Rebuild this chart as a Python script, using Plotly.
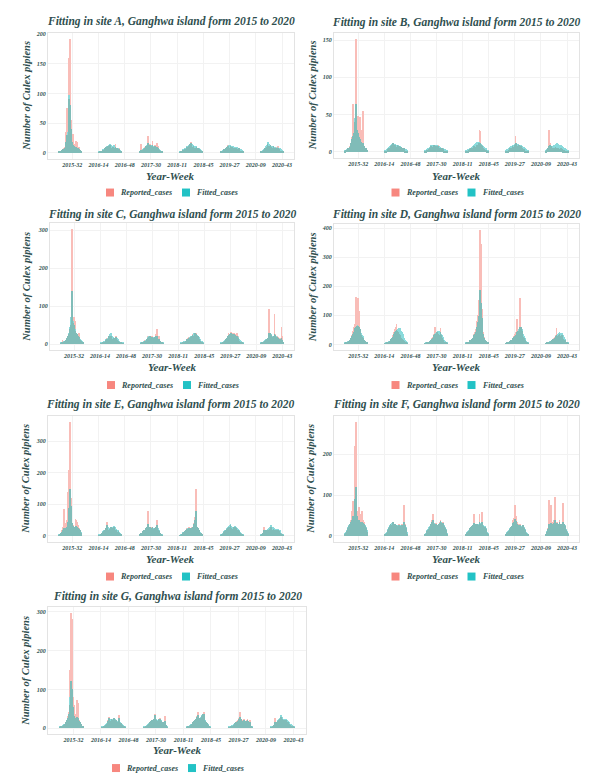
import plotly.graph_objects as go

# ---------------- data ----------------
YEARS = [2015, 2016, 2017, 2018, 2019, 2020]
YEAR_WEEKS = [52, 52, 53, 52, 52, 53]          # weeks per year (week numbering used in the source)
SEASON_WEEKS = list(range(15, 45))              # surveillance weeks 15..44 each year
TICK_LABELS = ["2015-32", "2016-14", "2016-48", "2017-30", "2018-11",
               "2018-45", "2019-27", "2020-09", "2020-43"]
SITES = ["A", "B", "C", "D", "E", "F", "G"]
SERIES = ["Reported_cases", "Fitted_cases"]

REPORTED_A = [
    [2,3,2,4,5,6,8,10,15,35,75,30,160,90,192,55,25,20,32,12,15,10,20,18,8,6,10,5,4,3],
    [1,2,2,3,4,5,3,8,6,10,5,12,8,6,14,9,7,5,10,8,6,15,4,9,7,5,8,3,2,2],
    [2,3,15,4,5,3,6,10,8,12,6,28,10,8,15,12,9,20,7,10,14,8,6,16,12,5,4,3,2,2],
    [1,2,3,3,5,4,6,5,8,10,7,12,9,15,18,10,8,12,6,9,7,10,5,8,6,4,5,3,2,2],
    [1,2,2,3,4,6,5,8,7,10,14,6,9,12,8,10,7,9,6,8,10,5,7,6,9,5,4,3,2,2],
    [1,2,2,3,4,5,8,6,10,15,9,12,8,14,10,7,9,12,6,8,5,10,7,12,6,4,3,3,2,2],
]
FITTED_A = [
    [3,3,4,4,5,6,7,9,12,18,30,35,65,97,80,40,25,18,14,12,12,10,10,9,8,7,6,5,4,3],
    [3,3,4,4,5,6,7,8,9,10,11,12,12,13,15,13,12,12,11,14,10,10,9,9,8,7,6,5,4,3],
    [3,4,5,5,6,7,8,9,10,12,14,16,15,14,13,14,12,13,12,11,12,10,9,10,8,7,6,5,4,3],
    [3,3,4,5,6,7,8,9,10,11,12,13,14,15,16,15,14,13,12,12,11,10,9,9,8,7,6,5,4,3],
    [3,3,4,5,5,6,7,8,9,10,12,13,14,13,12,12,11,11,10,10,9,9,10,9,8,8,7,6,5,4],
    [3,3,4,5,6,7,9,11,13,16,18,15,14,13,12,12,11,11,10,10,9,9,10,9,8,8,7,6,5,4],
]
REPORTED_B = [
    [2,3,3,4,5,6,8,10,12,20,65,25,30,40,152,60,35,48,30,47,20,30,15,55,12,8,6,5,4,3],
    [1,2,2,3,4,5,4,8,6,10,12,8,5,10,7,6,9,4,8,5,3,7,4,6,3,5,2,2,1,1],
    [1,2,2,3,3,4,5,6,8,5,7,9,10,6,8,5,7,9,6,4,5,3,6,4,3,2,2,1,1,1],
    [1,1,2,2,3,3,4,5,4,6,5,8,6,7,9,10,8,12,30,28,10,6,8,5,4,3,3,2,2,1],
    [1,1,2,2,3,4,5,6,5,8,7,6,10,22,12,8,6,9,7,5,8,4,6,3,4,2,2,1,1,1],
    [1,2,3,5,30,25,12,8,6,5,4,6,5,7,6,4,5,6,4,3,5,4,3,2,3,2,1,1,1,1],
]
FITTED_B = [
    [3,3,4,4,5,6,7,9,12,18,22,25,30,45,65,40,30,25,20,18,15,14,12,12,10,8,6,5,4,3],
    [3,3,4,5,6,7,8,9,10,11,12,12,11,11,10,10,9,9,8,8,7,7,6,6,5,5,4,4,3,3],
    [3,3,4,4,5,6,7,8,9,10,10,10,10,10,9,9,9,8,8,7,7,6,6,5,5,4,4,3,3,3],
    [3,3,3,4,4,5,5,6,7,8,9,10,11,12,13,14,14,13,12,12,11,10,9,8,7,6,5,4,3,3],
    [3,3,4,4,5,6,7,8,8,9,10,10,11,12,12,11,11,10,10,9,9,8,8,7,7,6,5,4,3,3],
    [3,3,4,5,8,10,9,8,7,7,8,9,10,11,11,12,11,10,10,9,9,8,8,7,6,6,5,4,3,3],
]
REPORTED_C = [
    [2,3,10,5,6,8,10,12,15,20,25,40,30,50,303,120,55,70,35,60,30,25,20,30,15,10,8,6,4,3],
    [1,2,3,4,5,6,8,10,15,12,18,20,15,22,18,12,10,15,8,12,20,10,6,8,5,4,3,2,2,1],
    [2,3,4,5,6,8,10,8,12,20,15,18,22,16,12,20,15,10,18,14,25,38,15,10,20,8,5,4,3,2],
    [1,2,3,4,5,6,8,10,12,15,18,12,20,15,22,25,18,20,28,22,30,15,20,12,10,8,5,4,3,2],
    [1,2,3,5,6,8,10,12,15,20,30,15,25,32,18,28,20,30,15,25,12,28,10,20,8,6,5,4,3,2],
    [1,2,3,4,5,6,8,10,12,15,40,92,30,20,25,18,15,20,78,25,15,20,12,18,10,15,8,45,20,5],
]
FITTED_C = [
    [3,4,5,6,7,8,10,12,15,20,30,40,45,70,140,90,60,50,40,35,30,25,20,18,15,12,10,8,6,4],
    [3,4,5,6,7,8,10,12,14,16,18,22,25,28,24,20,18,16,15,16,18,15,12,10,8,6,5,4,3,3],
    [3,4,5,6,7,8,9,10,12,15,18,20,22,20,18,19,17,16,18,18,20,22,18,14,12,9,7,5,4,3],
    [3,4,5,6,7,8,9,10,12,14,16,18,18,20,22,24,26,28,28,27,26,24,22,18,15,12,9,7,5,4],
    [3,4,5,6,8,10,12,14,16,20,24,22,25,28,25,26,24,27,23,24,20,22,18,16,12,10,8,6,5,4],
    [3,4,5,6,7,8,10,12,14,16,22,30,28,25,24,22,20,22,26,24,20,18,16,15,14,13,12,15,10,6],
]
REPORTED_D = [
    [3,4,5,6,8,10,12,15,20,30,45,60,70,55,160,80,60,158,115,50,40,30,25,20,15,12,10,8,6,5],
    [2,3,4,5,6,8,10,14,18,22,30,40,35,50,60,70,45,40,35,30,25,20,18,15,12,10,8,6,4,3],
    [2,3,4,5,6,7,9,12,15,20,25,30,35,58,30,25,40,35,30,25,55,30,20,15,12,8,6,5,4,3],
    [3,4,5,6,8,10,12,15,18,22,28,35,40,50,60,80,100,150,230,393,345,120,60,40,25,15,10,8,6,4],
    [2,3,4,5,6,8,10,12,15,18,22,28,35,40,50,85,45,40,50,158,60,45,35,25,20,15,10,8,5,3],
    [2,3,4,5,6,7,8,10,12,14,16,20,25,30,55,28,25,30,35,28,25,30,22,18,15,12,8,6,4,3],
]
FITTED_D = [
    [4,5,6,7,9,11,14,18,22,28,35,42,50,55,60,62,65,63,58,50,44,38,32,26,20,15,11,8,6,5],
    [3,4,5,6,7,9,11,13,16,20,25,30,35,40,45,48,50,52,55,54,50,45,40,33,26,20,14,10,7,5],
    [3,4,5,6,7,8,10,12,15,18,22,26,30,35,38,40,42,44,45,42,40,36,30,25,20,15,11,8,6,4],
    [4,5,6,7,8,10,12,15,18,22,26,30,35,40,48,60,75,95,130,185,140,90,55,35,22,14,10,7,5,4],
    [3,4,5,6,7,8,10,12,14,17,20,24,28,32,36,40,45,50,55,58,60,52,44,36,28,20,14,10,7,5],
    [3,4,5,6,7,8,9,10,12,14,16,18,22,26,30,32,35,38,40,38,36,38,35,30,24,18,12,8,6,4],
]
REPORTED_E = [
    [3,5,8,12,20,30,85,25,30,40,50,140,210,100,362,120,60,40,35,30,25,55,50,45,30,35,25,20,10,5],
    [2,3,5,8,10,12,15,18,20,25,45,20,18,15,22,28,20,15,25,30,20,15,18,12,10,15,8,6,4,3],
    [3,5,8,10,12,15,18,20,22,25,30,80,35,25,30,28,25,30,22,20,25,28,30,50,20,15,12,8,5,3],
    [2,3,5,8,10,12,15,18,20,25,22,28,30,25,20,28,30,35,40,60,150,50,30,25,20,15,10,8,5,3],
    [2,3,5,7,9,12,15,18,20,22,25,28,30,35,25,22,20,25,28,30,25,22,20,18,15,12,10,7,5,3],
    [2,3,5,8,12,30,15,18,12,15,18,20,22,25,28,20,18,22,15,18,20,15,12,18,15,10,8,6,4,3],
]
FITTED_E = [
    [5,6,8,10,14,18,25,20,22,26,30,45,70,90,150,95,55,40,32,28,26,30,32,30,26,25,22,18,12,8],
    [4,5,7,10,12,15,18,20,22,25,35,28,25,22,24,28,26,24,28,32,28,24,22,20,18,16,12,9,6,4],
    [4,6,8,10,12,15,18,20,22,24,28,38,35,30,28,26,25,28,26,24,25,28,30,34,26,20,15,10,7,5],
    [3,5,7,9,12,14,16,18,20,22,24,26,25,24,22,25,28,32,38,50,80,45,30,25,20,15,11,8,5,4],
    [3,5,7,9,12,15,18,20,22,25,28,32,35,38,32,28,26,28,30,32,28,26,25,22,20,18,14,10,7,5],
    [3,5,7,9,12,18,16,18,18,20,22,25,28,32,35,30,28,26,24,22,22,20,20,22,20,18,14,10,7,5],
]
REPORTED_F = [
    [5,8,12,15,20,25,30,40,35,60,85,50,185,220,280,90,60,45,70,55,40,35,60,40,30,35,25,20,15,10],
    [3,5,8,12,15,20,25,30,22,28,35,25,20,30,28,22,18,25,30,20,15,25,30,22,35,75,30,20,12,6],
    [3,5,8,12,15,18,22,25,30,40,55,35,30,28,32,25,22,28,30,35,40,32,28,35,30,25,20,15,10,5],
    [3,5,8,10,12,15,20,22,25,28,30,55,30,25,28,30,25,28,55,30,25,58,30,25,20,22,18,12,8,5],
    [3,5,8,10,12,15,18,22,25,30,40,45,75,60,50,35,30,25,28,30,22,20,25,28,20,15,12,8,6,4],
    [3,5,10,20,88,30,25,75,30,25,35,40,95,40,30,35,25,30,40,25,30,28,25,80,30,25,20,15,10,5],
]
FITTED_F = [
    [8,10,14,18,22,26,30,35,32,40,50,45,70,90,120,70,50,40,38,35,32,30,34,32,28,30,26,22,18,14],
    [5,8,10,14,18,22,26,30,28,32,35,30,28,30,28,25,24,26,28,25,22,26,28,26,30,35,28,22,15,10],
    [5,8,10,14,18,22,25,28,30,34,40,36,32,30,30,28,26,28,30,32,36,34,30,32,30,26,22,18,12,8],
    [5,7,9,12,15,18,20,22,24,26,28,32,30,28,28,30,28,30,34,32,30,35,30,28,25,24,20,15,10,7],
    [5,7,9,12,14,17,20,22,25,28,32,35,42,40,36,30,28,26,26,28,24,22,24,26,22,18,14,10,8,6],
    [5,8,12,18,30,28,26,32,28,26,30,32,40,34,30,32,28,30,34,28,30,28,26,34,30,26,22,16,12,8],
]
REPORTED_G = [
    [2,3,4,5,6,8,10,12,15,20,30,40,150,60,296,280,80,40,60,30,35,72,25,65,20,15,10,8,5,3],
    [1,2,3,5,6,8,10,15,20,28,12,18,22,15,20,25,18,12,20,15,10,32,15,10,12,8,5,4,3,2],
    [1,2,3,5,6,8,10,12,15,18,20,15,22,18,35,20,18,15,20,22,25,15,18,12,15,10,30,8,4,2],
    [1,2,3,4,6,8,10,12,15,18,20,22,25,30,40,25,20,22,25,30,35,42,25,18,15,12,8,5,3,2],
    [1,2,3,4,5,6,8,10,12,15,18,20,22,25,40,22,18,15,20,22,18,15,20,22,18,12,20,8,4,2],
    [1,2,3,5,8,25,10,12,15,18,20,22,25,28,22,18,20,15,18,20,16,12,15,10,8,6,5,4,3,2],
]
FITTED_G = [
    [3,4,5,6,7,9,11,13,16,20,25,35,60,80,120,100,55,35,30,25,24,28,22,25,18,14,10,8,6,4],
    [3,4,5,6,8,10,12,15,18,25,20,22,24,20,22,25,22,18,20,18,16,26,18,14,12,9,7,5,4,3],
    [3,4,5,6,8,10,12,14,16,18,20,18,22,20,32,22,20,18,20,22,24,20,18,16,14,12,18,8,5,3],
    [3,4,5,6,7,9,11,13,16,18,20,22,24,28,32,26,22,24,28,32,36,35,28,20,16,12,9,6,4,3],
    [3,4,5,6,7,8,9,10,12,14,16,18,20,22,28,22,18,16,18,20,18,16,18,20,18,14,16,8,5,3],
    [3,4,5,6,8,14,12,14,16,20,24,26,30,32,28,24,22,20,22,24,20,16,18,14,11,9,7,5,4,3],
]

REPORTED = dict(A=REPORTED_A, B=REPORTED_B, C=REPORTED_C, D=REPORTED_D,
                E=REPORTED_E, F=REPORTED_F, G=REPORTED_G)
FITTED = dict(A=FITTED_A, B=FITTED_B, C=FITTED_C, D=FITTED_D,
              E=FITTED_E, F=FITTED_F, G=FITTED_G)
Y_DTICK = dict(A=50, B=50, C=100, D=100, E=100, F=100, G=100)

# ---------------- helpers ----------------
def week_index(year, week):
    return sum(YEAR_WEEKS[:YEARS.index(year)]) + week

def parse_label(lbl):
    y, w = lbl.split("-")
    return week_index(int(y), int(w))

X_WEEKS = [week_index(y, w) for y in YEARS for w in SEASON_WEEKS]
TICK_VALS = [parse_label(t) for t in TICK_LABELS]
xmin, xmax = min(X_WEEKS), max(X_WEEKS)
pad = 0.05 * (xmax - xmin)
X_RANGE = [xmin - pad, xmax + pad]

W, H = 590, 780
# panel boxes in pixels: x0, x1, y0(top), y1(bottom)
PANELS = dict(
    A=(40, 286, 23, 149), B=(326, 571, 23, 148),
    C=(42, 286, 214, 341), D=(326, 571, 215, 341),
    E=(40, 286, 407, 533), F=(326, 571, 407, 533),
    G=(40, 298, 599, 726),
)
TITLE_Y = dict(A=12, B=13, C=205, D=205, E=396, F=396, G=588)
YTITLE_X = dict(A=19, B=304, C=19, D=304, E=18, F=303, G=18)
XTITLE_Y = dict(A=166, B=166, C=358, D=358, E=550, F=550, G=742)
LEGEND_Y = dict(A=183, B=183, C=376, D=376, E=568, F=568, G=760)

def px(x):
    return x / W

def py(y):
    return 1 - y / H

TXT = "#2F4F4F"
FONT = "Liberation Serif, Times New Roman, serif"
# colours of semi-transparent bars (pre-blended on white) and of their overlap
PINK = "#F9BDB8"
TEAL = "#8ADADB"
OVERLAP = "#80BCB8"
KEY_RED = "#F7877F"
KEY_TEAL = "#22C2C5"
BIF = dict(family=FONT, color=TXT, weight="bold", style="italic")

fig = go.Figure()
layout = dict(
    width=W, height=H, margin=dict(l=0, r=0, t=0, b=0),
    paper_bgcolor="white", plot_bgcolor="white",
    barmode="overlay", bargap=0, annotations=[], shapes=[],
    font=dict(family=FONT, color=TXT), showlegend=False,
)

for i, s in enumerate(SITES):
    n = i + 1
    sfx = "" if n == 1 else str(n)
    rep = [v for yr in REPORTED[s] for v in yr]
    fit = [v for yr in FITTED[s] for v in yr]
    both = [min(a, b) for a, b in zip(rep, fit)]
    for vals, col, nm in ((rep, PINK, SERIES[0]), (fit, TEAL, SERIES[1]), (both, OVERLAP, "overlap")):
        fig.add_trace(go.Bar(x=X_WEEKS, y=vals, name=nm, width=0.9,
                             marker=dict(color=col, line=dict(width=0)),
                             xaxis="x" + sfx, yaxis="y" + sfx))
    x0, x1, y0, y1 = PANELS[s]
    ymax = max(max(rep), max(fit))
    common = dict(
        ticks="", tickfont=dict(size=6, **BIF),
        showgrid=True, gridcolor="#F2F2F2", gridwidth=1,
        showline=True, mirror=True, linecolor="#E3E3E3", linewidth=1,
        zeroline=False,
    )
    layout["xaxis" + sfx] = dict(domain=[px(x0), px(x1)], anchor="y" + sfx, range=X_RANGE,
                                 tickvals=TICK_VALS, ticktext=TICK_LABELS, **common)
    layout["yaxis" + sfx] = dict(domain=[py(y1), py(y0)], anchor="x" + sfx,
                                 range=[-0.05 * ymax, 1.05 * ymax], dtick=Y_DTICK[s], **common)
    cxp = (x0 + x1) / 2
    cx = px(cxp)
    ly = LEGEND_Y[s]
    layout["annotations"] += [
        dict(text=f"Fitting in site {s}, Ganghwa island form 2015 to 2020",
             x=cx, y=py(TITLE_Y[s]), xref="paper", yref="paper",
             xanchor="center", yanchor="middle", showarrow=False,
             font=dict(size=11.5, **BIF)),
        dict(text="Year-Week", x=cx, y=py(XTITLE_Y[s]), xref="paper", yref="paper",
             xanchor="center", yanchor="middle", showarrow=False,
             font=dict(size=11, **BIF)),
        dict(text="Number of Culex pipiens", x=px(YTITLE_X[s]), y=py((y0 + y1) / 2),
             xref="paper", yref="paper", xanchor="center", yanchor="middle",
             showarrow=False, textangle=-90, font=dict(size=10.5, **BIF)),
        dict(text=SERIES[0], x=px(cxp - 53), y=py(ly), xref="paper", yref="paper",
             xanchor="left", yanchor="middle", showarrow=False, font=dict(size=8, **BIF)),
        dict(text=SERIES[1], x=px(cxp + 23), y=py(ly), xref="paper", yref="paper",
             xanchor="left", yanchor="middle", showarrow=False, font=dict(size=8, **BIF)),
    ]
    for (a, b), col in (((cxp - 65, cxp - 57), KEY_RED), ((cxp + 11, cxp + 19), KEY_TEAL)):
        layout["shapes"].append(dict(type="rect", xref="paper", yref="paper",
                                     x0=px(a), x1=px(b), y0=py(ly + 4), y1=py(ly - 4),
                                     fillcolor=col, line=dict(width=0)))

layout["shapes"].append(dict(type="line", xref="paper", yref="paper",
                             x0=0.005, x1=1, y0=py(773), y1=py(773),
                             line=dict(color="#C8C8C8", width=1.5)))
fig.update_layout(**layout)
fig.write_html("out.html")
